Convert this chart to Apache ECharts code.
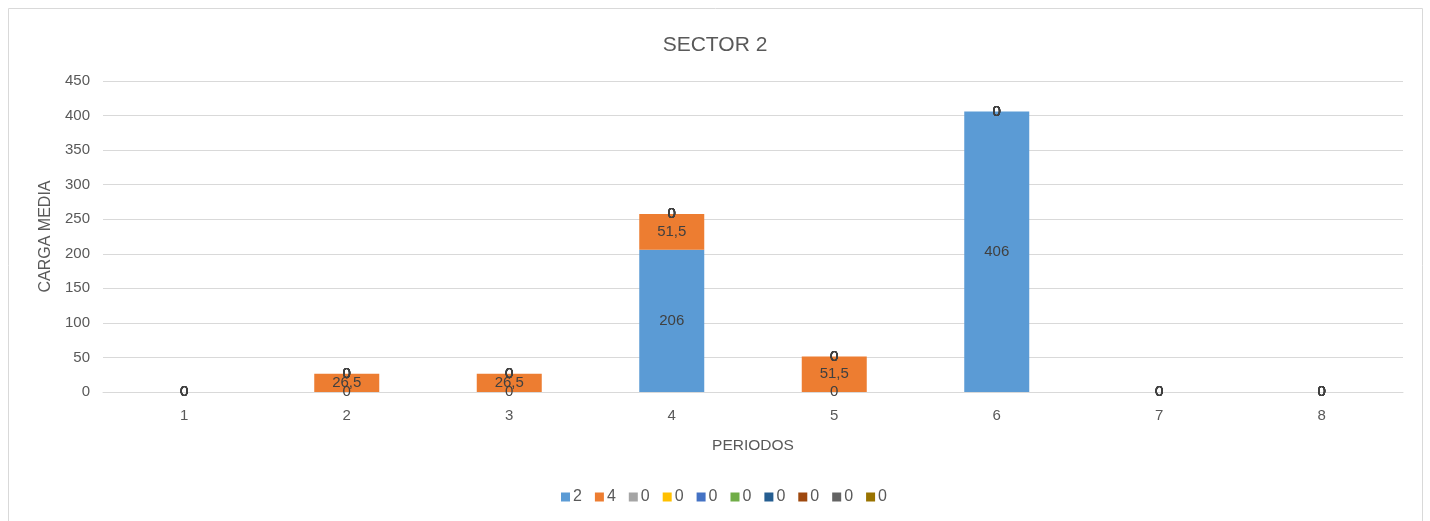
<!DOCTYPE html>
<html><head><meta charset="utf-8">
<script src="https://cdn.jsdelivr.net/npm/echarts@6/dist/echarts.min.js"></script>
<style>html,body{margin:0;padding:0;background:#fff}#c{width:1430px;height:521px}</style>
</head><body><div id="c"></div>
<script>
const categories = ['1','2','3','4','5','6','7','8'];
const seriesNames = ['2','4','0','0','0','0','0','0','0','0'];
const s2 = [0, 0, 0, 206, 0, 406, 0, 0];
const s4 = [0, 26.5, 26.5, 51.5, 51.5, 0, 0, 0];
const s0 = [0, 0, 0, 0, 0, 0, 0, 0];
const seriesValues = [s2, s4, s0, s0, s0, s0, s0, s0, s0, s0];
const colors = ['#5B9BD5','#ED7D31','#A5A5A5','#FFC000','#4472C4','#70AD47','#255E91','#9E480E','#636363','#997300'];
const yTicks = {min: 0, max: 450, interval: 50};

const FONT = 'Liberation Sans';
const chart = echarts.init(document.getElementById('c'));
chart.setOption({
  animation: false,
  color: colors,
  textStyle: {fontFamily: FONT},
  title: {text: 'SECTOR 2', left: 'center', top: 30,
    textStyle: {fontFamily: FONT, fontSize: 21, fontWeight: 'normal', color: '#595959'}},
  graphic: [{type: 'rect', shape: {x: 8.5, y: 8.5, width: 1414, height: 530},
    style: {fill: 'none', stroke: '#d9d9d9', lineWidth: 1}, silent: true}],
  grid: {left: 103, right: 27, top: 81, bottom: 129},
  legend: {bottom: 11, left: 556, icon: 'rect', itemWidth: 9, itemHeight: 9, itemGap: 13,
    textStyle: {fontFamily: FONT, fontSize: 16, color: '#595959', padding: [0,0,0,-2]},
    data: seriesNames.map((n, i) => ({name: n + '\u200b'.repeat(i)}))},
  xAxis: {type: 'category', data: categories,
    name: 'PERIODOS', nameLocation: 'middle', nameGap: 46,
    nameTextStyle: {fontFamily: FONT, fontSize: 15.5, color: '#595959'},
    axisLine: {lineStyle: {color: '#d9d9d9'}}, axisTick: {show: false},
    axisLabel: {fontFamily: FONT, fontSize: 15, color: '#595959', margin: 16}},
  yAxis: {type: 'value', min: yTicks.min, max: yTicks.max, interval: yTicks.interval,
    name: 'CARGA MEDIA', nameLocation: 'middle', nameGap: 48,
    nameTextStyle: {fontFamily: FONT, fontSize: 16, color: '#595959'},
    axisLine: {show: false}, axisTick: {show: false},
    axisLabel: {fontFamily: FONT, fontSize: 15, color: '#595959', margin: 13},
    splitLine: {lineStyle: {color: '#d9d9d9'}}},
  series: seriesValues.map((vals, i) => ({
    name: seriesNames[i] + '\u200b'.repeat(i), type: 'bar', stack: 'total',
    barWidth: 65, data: vals,
    label: {show: true, position: 'inside', fontFamily: FONT, fontSize: 15, color: '#404040',
      formatter: p => String(p.value).replace('.', ',')}
  }))
});
</script></body></html>
